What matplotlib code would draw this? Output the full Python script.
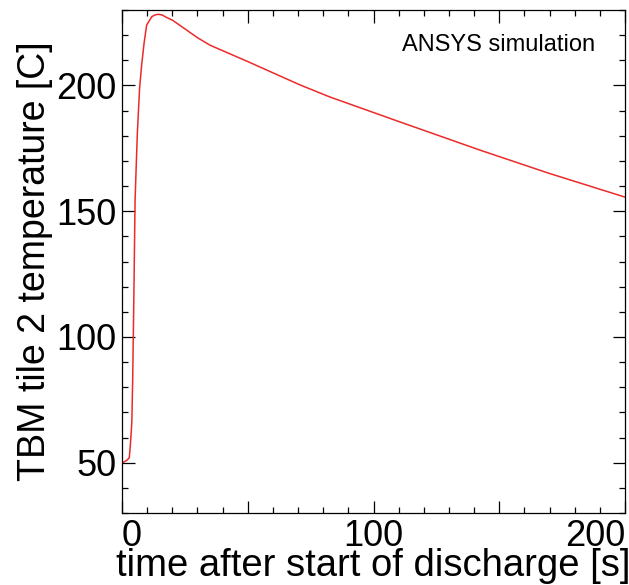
import matplotlib
matplotlib.use("Agg")
import matplotlib.pyplot as plt
from matplotlib.ticker import MultipleLocator

plt.rcParams['font.family'] = ['Liberation Sans', 'DejaVu Sans']

# ANSYS simulation of TBM tile 2 temperature
time_s = [0, 1, 2, 2.9, 3.4, 3.9, 4.25, 4.7, 5.2, 6.1, 7, 7.8, 8.8, 9.8,
          11.8, 13, 14.4, 16, 17.8, 20, 25, 30, 35, 50, 70.8, 82.7,
          110.5, 142.3, 170, 200]
temp_c = [50, 50.4, 51, 52, 58, 66, 83, 115, 154.5, 181, 199, 208, 217, 224,
          227.3, 228, 228.3, 228, 227, 226, 222.5, 219, 216, 209.5, 200.2, 195.4,
          185.5, 174.3, 165, 155.6]

xticks = [0, 100, 200]
yticks = [50, 100, 150, 200]

fig = plt.figure(figsize=(6.29, 5.85), dpi=100)
ax = fig.add_axes([122/629, 72/585, 503/629, 503/585])

ax.plot(time_s, temp_c, color='#ec2a2a', lw=1.1)

ax.set_xlim(0, 200)
ax.set_ylim(30, 230)
ax.xaxis.set_major_locator(MultipleLocator(50))
ax.xaxis.set_minor_locator(MultipleLocator(10))
ax.set_xticklabels([str(int(v)) if v in xticks else '' for v in ax.get_xticks()])
ax.set_yticks(yticks)
ax.yaxis.set_minor_locator(MultipleLocator(10))

ax.tick_params(which='both', direction='in', top=True, right=True,
               labelsize=26, width=0.9)
ax.tick_params(axis='x', pad=4)
ax.tick_params(axis='y', pad=4)
ax.tick_params(which='major', length=9)
ax.tick_params(which='minor', length=4.5)
for s in ax.spines.values():
    s.set_linewidth(0.9)

# IDL-style: end labels kept inside the axis span
for lab in ax.get_xticklabels():
    if lab.get_text() == '0':
        lab.set_horizontalalignment('left')
    elif lab.get_text() == '200':
        lab.set_horizontalalignment('right')

ax.set_xlabel('time after start of discharge [s]', fontsize=27.5, labelpad=-4)
ax.set_ylabel('TBM tile 2 temperature [C]', fontsize=27, labelpad=2)

ax.text(0.94, 0.93, 'ANSYS simulation', transform=ax.transAxes,
        ha='right', va='center', fontsize=17)

fig.savefig('out.png', dpi=100)
